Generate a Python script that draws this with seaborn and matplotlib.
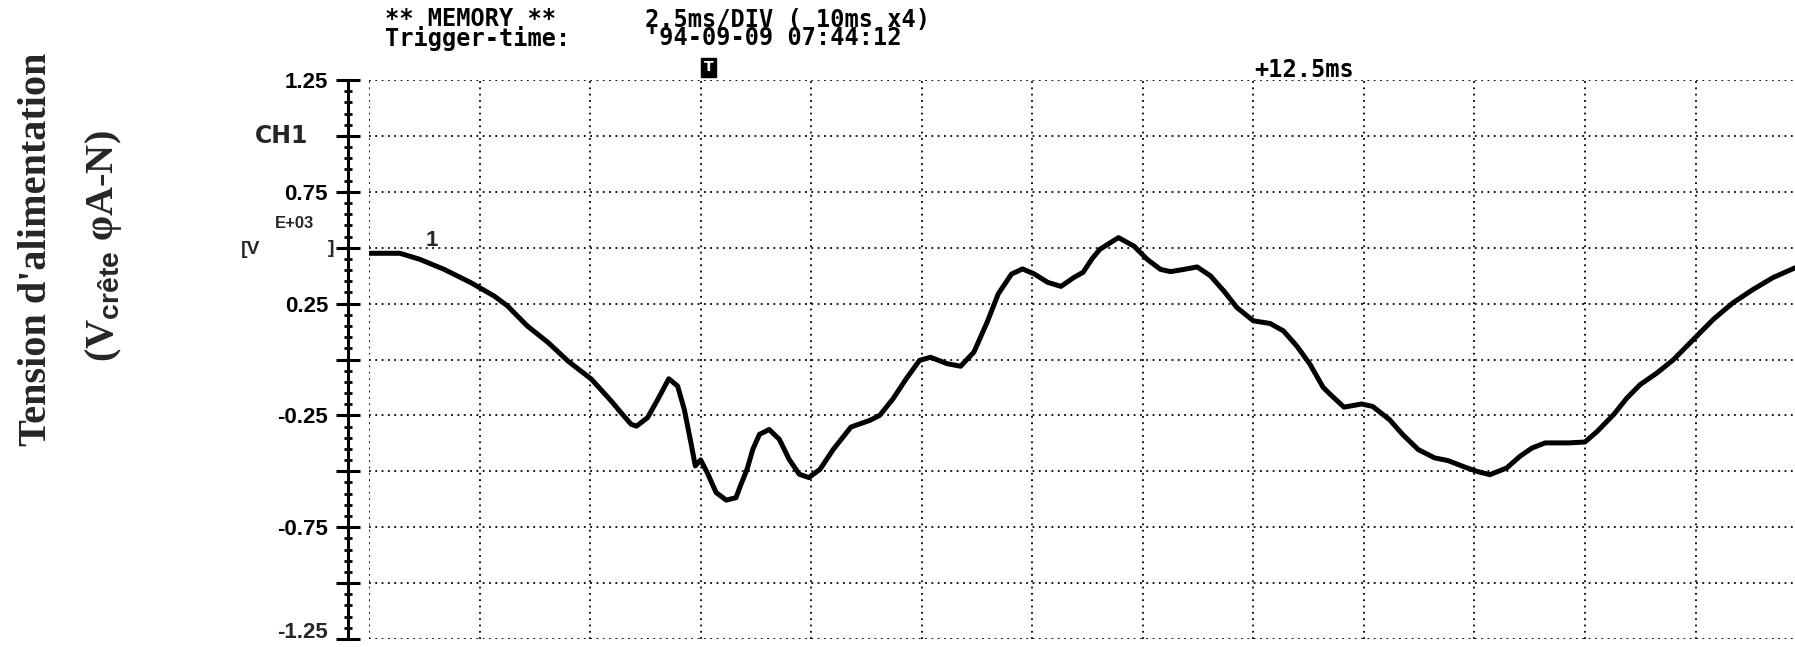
import numpy as np
import pandas as pd
import seaborn as sns
import matplotlib.pyplot as plt
from matplotlib.ticker import MultipleLocator

# scope trace: time from left edge of screen (ms), voltage (kV)
time_ms = [0.00, 0.70, 1.15, 1.70, 2.30, 2.83, 3.13, 3.58, 4.05, 4.50,
           5.03, 5.48, 5.70, 5.93, 6.05, 6.30, 6.53, 6.78, 6.98, 7.13,
           7.28, 7.38, 7.50, 7.65, 7.85, 8.08, 8.30, 8.40, 8.55, 8.68,
           8.83, 9.05, 9.28, 9.50, 9.73, 9.95, 10.20, 10.50, 10.90, 11.33,
           11.55, 11.85, 12.15, 12.45, 12.70, 13.08, 13.38, 13.68, 13.98, 14.23,
           14.53, 14.78, 15.05, 15.35, 15.65, 15.95, 16.15, 16.35, 16.53, 16.95,
           17.30, 17.60, 17.90, 18.13, 18.43, 18.73, 19.03, 19.33, 19.63, 20.00,
           20.38, 20.68, 20.98, 21.28, 21.58, 21.75, 22.05, 22.45, 22.70, 23.08,
           23.38, 23.73, 24.10, 24.40, 24.78, 25.05, 25.35, 25.73, 26.03, 26.30,
           26.60, 27.13, 27.50, 27.78, 28.15, 28.45, 28.75, 29.13, 29.50, 29.95,
           30.40, 30.85, 31.30, 31.75, 32.25]
volt_kv = [0.475, 0.475, 0.448, 0.403, 0.344, 0.284, 0.240, 0.150, 0.076, -0.007,
           -0.088, -0.186, -0.238, -0.290, -0.298, -0.260, -0.179, -0.086, -0.119, -0.223,
           -0.372, -0.476, -0.449, -0.506, -0.595, -0.629, -0.618, -0.565, -0.491, -0.402,
           -0.335, -0.313, -0.357, -0.446, -0.513, -0.528, -0.491, -0.402, -0.302, -0.272,
           -0.250, -0.176, -0.086, -0.004, 0.010, -0.019, -0.030, 0.033, 0.167, 0.293,
           0.382, 0.405, 0.382, 0.345, 0.327, 0.368, 0.390, 0.450, 0.493, 0.545,
           0.507, 0.448, 0.403, 0.393, 0.403, 0.414, 0.374, 0.307, 0.232, 0.173,
           0.161, 0.128, 0.061, -0.021, -0.125, -0.158, -0.213, -0.199, -0.210, -0.269,
           -0.336, -0.403, -0.440, -0.452, -0.481, -0.500, -0.515, -0.485, -0.433, -0.396,
           -0.373, -0.373, -0.369, -0.321, -0.246, -0.172, -0.112, -0.060, -0.001, 0.089,
           0.179, 0.254, 0.313, 0.366, 0.410]

ytick_values = [-1.25, -1.0, -0.75, -0.5, -0.25, 0.0, 0.25, 0.5, 0.75, 1.0, 1.25]
# bottom label drawn on its own so it is not clipped by the page edge
ytick_labels = ['', '', '-0.75', '', '-0.25', '', '0.25', '', '0.75', '', '1.25']
bottom_label = '-1.25'
header_left = '** MEMORY **\nTrigger-time:'
header_right = "2.5ms/DIV ( 10ms x4)\n'94-09-09 07:44:12"
trigger_ms = 7.5
delay_label = '+12.5ms'

W, H = 1795, 647


def fx(x):
    return x / W


def fy(y):
    return 1 - y / H


sns.set_style('white')
plt.rcParams['font.family'] = ['Liberation Sans', 'DejaVu Sans']
plt.rcParams['mathtext.fontset'] = 'custom'
plt.rcParams['mathtext.bf'] = 'Liberation Sans:bold'
plt.rcParams['mathtext.rm'] = 'Liberation Serif:bold'

df = pd.DataFrame({'t_ms': time_ms, 'v_kv': volt_kv})

fig = plt.figure(figsize=(W / 100, H / 100), dpi=100)
ax = fig.add_axes([fx(369), fy(639), (W - 369) / W, (639 - 80) / H])

sns.lineplot(data=df, x='t_ms', y='v_kv', ax=ax, color='black', linewidth=3.6,
             estimator=None, sort=False, legend=False)
ax.lines[0].set_solid_joinstyle('round')
ax.lines[0].set_solid_capstyle('round')

ax.set_xlim(0, 32.25)
ax.set_ylim(-1.25, 1.25)
ax.set_xticks(np.arange(0, 30.1, 2.5))
ax.set_yticks(ytick_values)
ax.set_yticklabels(ytick_labels)
ax.yaxis.set_minor_locator(MultipleLocator(0.05))
ax.set_xlabel('')
ax.set_ylabel('')

ax.grid(True, which='major', color='black', linestyle=(0, (1, 2.5)), linewidth=1.3)
ax.set_axisbelow(True)

for side in ['top', 'right', 'bottom']:
    ax.spines[side].set_visible(False)
ax.spines['left'].set_position(('outward', 15))
ax.spines['left'].set_linewidth(2.2)
ax.spines['left'].set_color('black')

ax.tick_params(axis='x', length=0, labelbottom=False)
ax.tick_params(axis='y', which='major', direction='inout', length=17, width=2.2,
               pad=6, labelsize=16, colors='black', left=True)
ax.tick_params(axis='y', which='minor', direction='inout', length=6, width=2,
               colors='black', left=True)
for lbl in ax.get_yticklabels():
    lbl.set_fontweight('bold')
fig.text(fx(328), fy(632), bottom_label, ha='right', va='center', fontsize=16,
         fontweight='bold')

# header printed by the recorder
mono = dict(family='DejaVu Sans Mono', fontsize=17, fontweight='bold', color='black')
fig.text(fx(385), fy(29), header_left, ha='left', va='center', linespacing=0.72, **mono)
fig.text(fx(645), fy(29), header_right, ha='left', va='center', linespacing=0.72, **mono)
fig.text(fx(1254), fy(70), delay_label, ha='left', va='center', **mono)

ax.annotate('T', xy=(trigger_ms, 1.25), xytext=(2, 4), textcoords='offset points',
            ha='left', va='bottom', color='white', fontsize=10, fontweight='bold',
            family='DejaVu Sans', annotation_clip=False,
            bbox=dict(boxstyle='square,pad=0.2', fc='black', ec='black'))

# channel annotations
fig.text(fx(282), fy(136), 'CH1', ha='center', va='center', fontsize=17,
         fontweight='bold', family='DejaVu Sans')
fig.text(fx(251), fy(250), '[V', ha='center', va='center', fontsize=14, fontweight='bold')
fig.text(fx(295), fy(224), 'E+03', ha='center', va='center', fontsize=12, fontweight='bold')
fig.text(fx(331), fy(249), ']', ha='center', va='center', fontsize=14, fontweight='bold')
fig.text(fx(432), fy(241), '1', ha='center', va='center', fontsize=16, fontweight='bold')

# y label
fig.text(fx(37), fy(249), "Tension d'alimentation", rotation=90, ha='center',
         va='center', fontsize=29, fontweight='bold', family='Liberation Serif')
fig.text(fx(104), fy(246), r'(V$_{\mathbf{crête}}$ φA-N)', rotation=90, ha='center',
         va='center', fontsize=29, fontweight='bold', family='Liberation Serif')

fig.savefig('out.png', dpi=100, facecolor='white')
